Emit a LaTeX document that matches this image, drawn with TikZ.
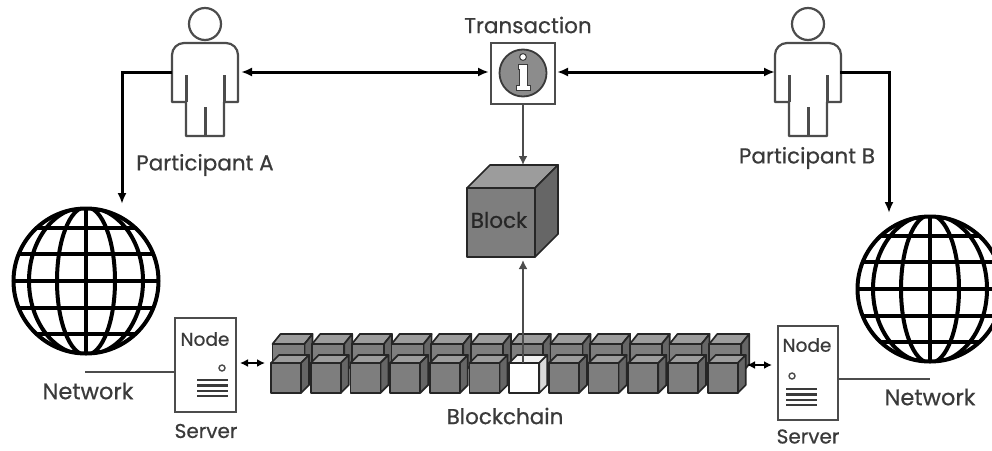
\documentclass[tikz,border=0pt]{standalone}
\usepackage{fontspec}
\setmainfont[FakeBold=0.6]{Poppins}
\usetikzlibrary{arrows.meta}
\definecolor{ink}{HTML}{3A3A3A}
\definecolor{figline}{HTML}{4C4C4C}
\definecolor{cubefront}{HTML}{7E7E7E}
\definecolor{cubetop}{HTML}{9C9C9C}
\definecolor{cubeside}{HTML}{666666}
\tikzset{
  lbl/.style={font=\fontsize{21.5}{23}\selectfont, text=ink, inner sep=0pt},
  lblserver/.style={font=\fontsize{20}{21}\selectfont, text=ink, inner sep=0pt},
  lblnet/.style={font=\fontsize{22.5}{24}\selectfont, text=ink, inner sep=0pt},
  lblnode/.style={font=\fontsize{18.5}{20}\selectfont, text=ink, inner sep=0pt},
  anchorbox/.style={inner sep=0pt, outer sep=0pt, rectangle},
  bigconn/.style={line width=3pt, black, -{Latex[length=11pt,width=9pt]}},
  biarrow/.style={line width=3pt, black, {Latex[length=11pt,width=9pt]}-{Latex[length=11pt,width=9pt]}},
  midconn/.style={line width=2pt, figline, -{Latex[length=9pt,width=9pt]}},
  miniarrow/.style={line width=2.2pt, black, {Latex[length=8pt,width=8pt]}-{Latex[length=8pt,width=8pt]}},
  thinconn/.style={line width=1.5pt, figline},
  personfig/.pic={
    \draw[figline, line width=2.2pt, fill=white] (0,-48) circle[radius=16];
    \draw[figline, line width=2.2pt, fill=white, line join=round]
      (-33,30) -- (-33,-17) to[out=90,in=180] (-21,-29) -- (21,-29)
      to[out=0,in=90] (33,-17) -- (33,30) -- (19,30) -- (19,64) -- (-19,64) -- (-19,30) -- cycle;
    \draw[figline, line width=3pt] (-19,3) -- (-19,30) (19,3) -- (19,30) (0,35) -- (0,64);
  },
  globefig/.pic={
    \begin{scope}
      \clip (0,0) circle[radius=74];
      \fill[white] (0,0) circle[radius=74];
      \draw[black, line width=4.2pt]
        (-80,-53) -- (80,-53) (-80,-27) -- (80,-27) (-80,0) -- (80,0)
        (-80,27) -- (80,27) (-80,53) -- (80,53) (0,-80) -- (0,80);
      \draw[black, line width=4pt] (0,0) ellipse[x radius=29, y radius=74];
      \draw[black, line width=4pt] (0,0) ellipse[x radius=57, y radius=74];
    \end{scope}
    \draw[black, line width=4pt] (0,0) circle[radius=72.5];
  }
}
% cube: #1,#2 = top-left of front face; #3 = width; #4 = height; #5 = depth x; #6 = depth y; #7,#8,#9 = fills
\newcommand{\cubeshape}[9]{%
  \draw[black!85, line width=1.7pt, line join=round, fill=#8]
    (#1,#2) -- ++(#5,-#6) -- ++(#3,0) -- ++(-#5,#6) -- cycle;
  \draw[black!85, line width=1.7pt, line join=round, fill=#9]
    (#1+#3,#2) -- ++(#5,-#6) -- ++(0,#4) -- ++(-#5,#6) -- cycle;
  \draw[black!85, line width=1.7pt, line join=round, fill=#7]
    (#1,#2) rectangle ++(#3,#4);
}
\begin{document}
\begin{tikzpicture}[x=1pt,y=-1pt]
\useasboundingbox (0,0) rectangle (992,450);
\fill[white] (0,0) rectangle (992,450);

% globes
\begin{scope}
  \clip (0,0) rectangle (992,450);
  \pic at (86,281) {globefig};
  \pic at (930,289) {globefig};
\end{scope}

% people
\pic at (205,72) {personfig};
\pic at (808,72) {personfig};
\node[anchorbox, minimum width=66pt, minimum height=93pt] (pA) at (205,89.5) {};
\node[anchorbox, minimum width=66pt, minimum height=93pt] (pB) at (808,89.5) {};
\node[lbl] (lpA) at (205,165) {Participant A};
\node[lbl] (lpB) at (807,158) {Participant B};

% transaction
\node[lbl] (ltx) at (528,25) {Transaction};
\node[anchorbox, draw=figline, line width=2pt, fill=white, minimum width=64pt, minimum height=61pt] (tx) at (523,73.5) {};
\node[circle, draw=ink, line width=1.8pt, fill=black!45, minimum size=47pt, inner sep=0pt] (info) at (523,73) {};
\fill[white, draw=ink, line width=1pt] (523,57) circle[radius=3.4];
\draw[white, draw=ink, line width=1pt, fill=white]
  (518,64) -- (527,64) -- (527,85) -- (530,85) -- (530,90) -- (516,90) -- (516,85) -- (519,85) -- (519,69) -- (518,69) -- cycle;

% block
\cubeshape{467}{188}{68}{69}{23}{23}{cubefront}{cubetop}{cubeside}
\node[anchorbox, minimum width=91pt, minimum height=92pt] (block) at (512.5,211) {};
\node[font=\fontsize{21.5}{23}\selectfont, text=black!85, inner sep=0pt] (lblock) at (499,220) {Block};

% blockchain: back row, then front row
\foreach \i in {0,...,11} {
  \pgfmathsetmacro{\xx}{272.5+39.7*\i}
  \cubeshape{\xx}{344}{32}{30}{8}{10}{cubefront}{cubetop}{cubeside}
}
\foreach \i in {0,...,11} {
  \pgfmathsetmacro{\xx}{271+39.7*\i}
  \ifnum\i=6
    \cubeshape{\xx}{363}{30}{30}{8}{8}{white}{white!95!black}{black!15}
  \else
    \cubeshape{\xx}{363}{30}{30}{8}{8}{cubefront}{cubetop}{cubeside}
  \fi
}
\node[anchorbox, minimum width=478pt, minimum height=60pt] (chain) at (509.5,363) {};
\node[anchorbox, minimum width=30pt, minimum height=30pt] (white) at (523,378) {};
\node[lbl] (lchain) at (505,416) {Blockchain};

% servers
\node[anchorbox, draw=figline, line width=2pt, fill=white, minimum width=61pt, minimum height=94pt] (sA) at (205.5,365) {};
\node[anchorbox, draw=figline, line width=2pt, fill=white, minimum width=60pt, minimum height=94pt] (sB) at (808,373) {};
\node[lblnode] (nA) at (205,339) {Node};
\node[lblnode] (nB) at (807,345) {Node};
\draw[figline, line width=1.4pt] (222,368) circle[radius=3];
\draw[figline, line width=1.4pt] (792,376) circle[radius=3];
\foreach \yy in {380,385.5,391,396} \draw[ink, line width=2.6pt] (197,\yy) -- (228,\yy);
\foreach \yy in {389,394.5,400,405} \draw[ink, line width=2.6pt] (786,\yy) -- (817,\yy);
\node[lblserver] (lsA) at (206,431) {Server};
\node[lblserver] (lsB) at (808,436.5) {Server};
\node[lblnet] (lnA) at (88,391) {Network};
\node[lblnet] (lnB) at (930,397) {Network};

% free ends
\coordinate (cA) at (122,204);
\coordinate (cB) at (889,213);
\coordinate (wA) at (85,372);
\coordinate (wB) at (930,379);
\coordinate (a1) at (240,363);
\coordinate (a2) at (265,363);
\coordinate (b1) at (747,365);
\coordinate (b2) at (772,365);
\coordinate (pAr) at (240,72);
\coordinate (pAl) at (172,72);
\coordinate (pBl) at (776,72);
\coordinate (pBr) at (840,72);
\coordinate (txl) at (490,72);
\coordinate (txr) at (556,72);

% connectors
\draw[biarrow, shorten <=1pt, shorten >=1pt] (pAr) -- (txl);
\draw[biarrow, shorten <=1pt, shorten >=1pt] (txr) -- (pBl);
\draw[bigconn] (pAl) -| (cA);
\draw[bigconn] (pBr) -| (cB);
\draw[midconn] (tx.south) -- (tx.south |- block.north);
\draw[midconn, shorten >=3pt] (white.north) -- (white.north |- block.south);
\draw[miniarrow] (a1) -- (a2);
\draw[miniarrow] (b1) -- (b2);
\draw[thinconn] (sA.west |- wA) -- (wA);
\draw[thinconn] (sB.east |- wB) -- (wB);
\end{tikzpicture}
\end{document}
